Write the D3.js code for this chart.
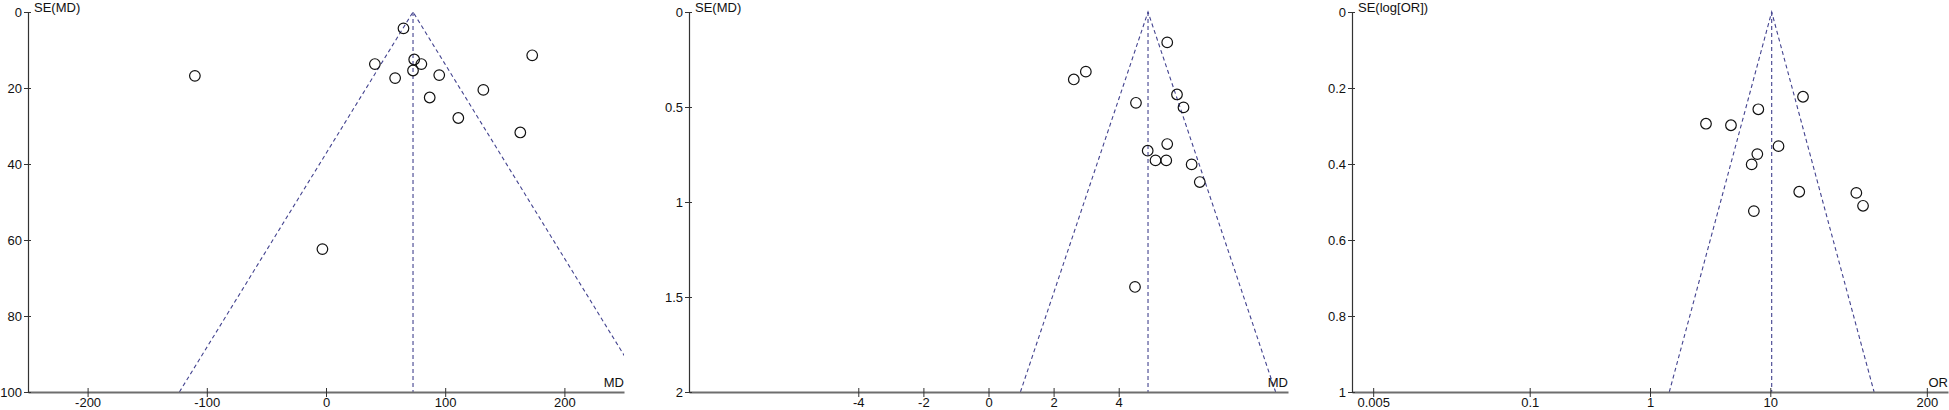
<!DOCTYPE html>
<html><head><meta charset="utf-8">
<script src="https://cdn.jsdelivr.net/npm/d3@7"></script>
<style>
html,body{margin:0;padding:0;background:#fff;}
svg{display:block;}
text{font-family:"Liberation Sans",Arial,sans-serif;font-size:13px;fill:#111;}
</style></head>
<body>
<svg id="chart" width="1949" height="410"></svg>
<script>
// ---- Panel 1: MD, SE(MD)
const p1_md = [-110, -3, 41, 58, 65, 74, 73, 80, 95, 87, 111, 132, 163, 173];
const p1_se = [16.8, 62.4, 13.7, 17.4, 4.3, 12.5, 15.4, 13.7, 16.6, 22.5, 27.9, 20.5, 31.7, 11.4];
const p1_pooled = 73;
const p1_xTicks = [-200, -100, 0, 100, 200];
const p1_yTicks = [0, 20, 40, 60, 80, 100];
const p1_xDomain = [-250, 250];
const p1_yDomain = [0, 100];

// ---- Panel 2: MD, SE(MD)
const p2_md = [2.62, 2.99, 5.49, 4.53, 5.79, 5.99, 5.49, 4.89, 5.13, 5.46, 6.24, 6.49, 4.50];
const p2_se = [0.355, 0.314, 0.160, 0.478, 0.434, 0.502, 0.695, 0.730, 0.781, 0.781, 0.802, 0.895, 1.447];
const p2_pooled = 4.9;
const p2_xTicks = [-4, -2, 0, 2, 4];
const p2_yTicks = [0, 0.5, 1, 1.5, 2];
const p2_xDomain = [-9.2, 9.2];
const p2_yDomain = [0, 2];

// ---- Panel 3: OR, SE(log[OR])
const p3_or = [2.92, 4.71, 7.95, 18.7, 11.7, 7.8, 7.0, 17.4, 51.9, 59.0, 7.3];
const p3_se = [0.294, 0.298, 0.256, 0.223, 0.353, 0.374, 0.401, 0.473, 0.476, 0.510, 0.524];
const p3_pooled = 10.27;
const p3_xTicks = [0.005, 0.1, 1, 10, 200];
const p3_yTicks = [0, 0.2, 0.4, 0.6, 0.8, 1];
const p3_xDomain = [1/300, 300];
const p3_yDomain = [0, 1];

const svg = d3.select("#chart");
const TOP = 12, BOTTOM = 392;
const lineColor = "#43438f";

function panel(cfg) {
  const g = svg.append("g");
  const x = cfg.log ? d3.scaleLog().domain(cfg.xDomain).range([cfg.L, cfg.R])
                    : d3.scaleLinear().domain(cfg.xDomain).range([cfg.L, cfg.R]);
  const y = d3.scaleLinear().domain(cfg.yDomain).range([TOP, BOTTOM]);

  const clipId = "clip" + cfg.id;
  svg.append("clipPath").attr("id", clipId).append("rect")
    .attr("x", cfg.L).attr("y", TOP - 2).attr("width", cfg.R - cfg.L).attr("height", BOTTOM - TOP + 2);

  // funnel lines
  const seMax = cfg.yDomain[1];
  const toLin = cfg.log ? v => Math.log(v) : v => v;
  const fromLin = cfg.log ? v => Math.exp(v) : v => v;
  const c = toLin(cfg.pooled);
  const fl = g.append("g").attr("clip-path", `url(#${clipId})`)
    .attr("stroke", lineColor).attr("stroke-width", 1.1)
    .attr("stroke-dasharray", "4,3").attr("fill", "none");
  const line = d3.line().x(d => x(d[0])).y(d => y(d[1]));
  fl.append("path").attr("d", line([[fromLin(c - 1.96 * seMax), seMax], [cfg.pooled, 0], [fromLin(c + 1.96 * seMax), seMax]]));
  fl.append("path").attr("d", line([[cfg.pooled, 0], [cfg.pooled, seMax]]));

  // axes
  const xa = d3.axisBottom(x).tickValues(cfg.xTicks).tickSizeInner(4).tickSizeOuter(0).tickPadding(2)
    .tickFormat(cfg.xFmt || (d => d));
  const gx = g.append("g").attr("transform", `translate(0,${BOTTOM})`).call(xa);
  gx.select(".domain").attr("stroke", "#6e6e6e").attr("stroke-width", 2);
  gx.selectAll(".tick line").attr("y1", -4).attr("y2", 5).attr("stroke", "#333");
  gx.selectAll(".tick text").attr("font-size", 13.5).attr("fill", "#111").attr("font-family", "Liberation Sans, Arial, sans-serif");

  const ya = d3.axisLeft(y).tickValues(cfg.yTicks).tickSizeInner(4).tickSizeOuter(0).tickPadding(2)
    .tickFormat(d => d3.format("~g")(d));
  const gy = g.append("g").attr("transform", `translate(${cfg.L},0)`).call(ya);
  gy.select(".domain").attr("stroke", "#333").attr("stroke-width", 1.2);
  gy.selectAll(".tick line").attr("x1", -4).attr("x2", 3).attr("stroke", "#333");
  gy.selectAll(".tick text").attr("font-size", 13).attr("fill", "#111").attr("font-family", "Liberation Sans, Arial, sans-serif");

  // points
  g.append("g").selectAll("circle").data(cfg.xs.map((v, i) => [v, cfg.ses[i]])).join("circle")
    .attr("cx", d => x(d[0])).attr("cy", d => y(d[1])).attr("r", 5.3)
    .attr("fill", "none").attr("stroke", "#111").attr("stroke-width", 1.2);

  // labels
  g.append("text").attr("x", cfg.L + 6).attr("y", 11.5).text(cfg.yLabel);
  g.append("text").attr("x", cfg.R).attr("y", 387).attr("text-anchor", "end").text(cfg.xLabel);
}

panel({id: 1, L: 28, R: 624, xDomain: p1_xDomain, yDomain: p1_yDomain, xTicks: p1_xTicks, yTicks: p1_yTicks,
  xs: p1_md, ses: p1_se, pooled: p1_pooled, yLabel: "SE(MD)", xLabel: "MD"});
panel({id: 2, L: 689, R: 1288, xDomain: p2_xDomain, yDomain: p2_yDomain, xTicks: p2_xTicks, yTicks: p2_yTicks,
  xs: p2_md, ses: p2_se, pooled: p2_pooled, yLabel: "SE(MD)", xLabel: "MD"});
panel({id: 3, L: 1352, R: 1948, log: true, xDomain: p3_xDomain, yDomain: p3_yDomain, xTicks: p3_xTicks, yTicks: p3_yTicks,
  xs: p3_or, ses: p3_se, pooled: p3_pooled, yLabel: "SE(log[OR])", xLabel: "OR", xFmt: d => String(d)});
</script>
</body></html>
